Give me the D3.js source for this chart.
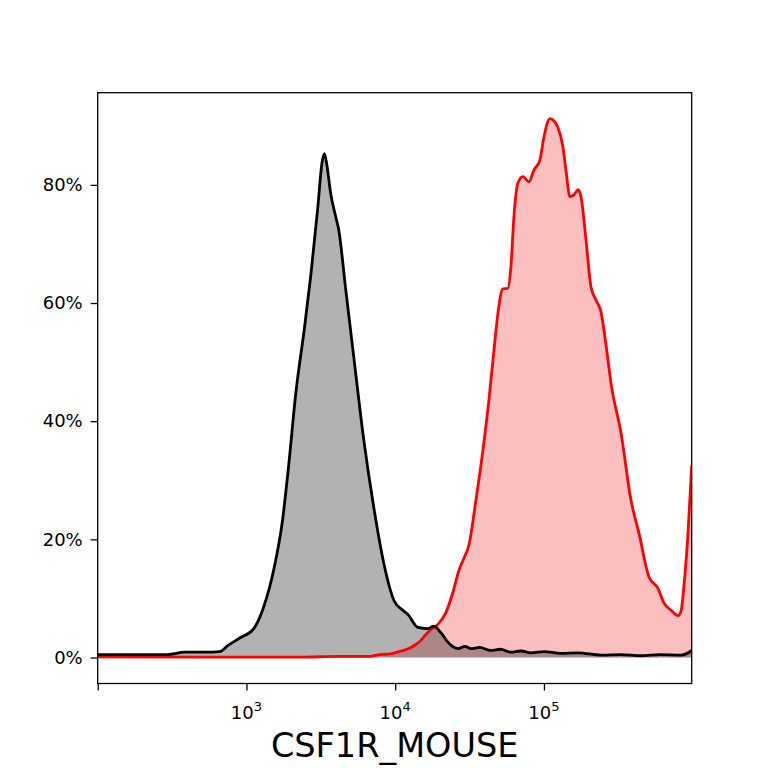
<!DOCTYPE html>
<html>
<head>
<meta charset="utf-8">
<script src="https://cdn.jsdelivr.net/npm/d3@7"></script>
<style>
  body { margin: 0; background: #fff; }
  svg { display: block; font-family: "DejaVu Sans", sans-serif; }
</style>
</head>
<body>
<div id="chart"></div>
<script>
// control (black) histogram: intensity values and % of max
var blackX = [100, 295, 385, 525, 661, 748, 902, 1120, 1307, 1527, 1741, 1926, 2146, 2450, 2708, 3019, 3211, 3336, 3467, 3687, 3984, 4172, 4654, 5270, 6152, 7181, 8390, 9795, 11250, 12160, 14190, 16590, 18200, 20280, 22960, 26390, 29500, 32250, 37000, 43980, 51000, 59920, 70000, 81750, 100000, 130000, 170000, 241600, 330000, 449100, 600000, 834300, 916000, 985000];
var blackY = [0.5, 0.5, 0.9, 0.9, 1.0, 2.0, 3.3, 4.9, 8.6, 14.9, 22.9, 32.7, 44.7, 55.6, 64.7, 76.2, 83.5, 85.3, 83.5, 78.5, 74.6, 72.4, 62.2, 50.8, 36.8, 25.4, 15.9, 9.7, 8.0, 7.3, 5.1, 4.9, 5.3, 4.2, 2.4, 1.5, 1.9, 1.5, 1.7, 1.2, 1.4, 0.9, 1.1, 0.8, 1.0, 0.7, 0.8, 0.4, 0.5, 0.3, 0.5, 0.4, 0.7, 1.2];

// stained (red) histogram
var redX = [100, 485, 2285, 4245, 6745, 7880, 9350, 10100, 11430, 12740, 13770, 14870, 16070, 17370, 19360, 21920, 24430, 26800, 28970, 31300, 34890, 38900, 42690, 46130, 49070, 52970, 57260, 59970, 62830, 66860, 72270, 79290, 85690, 94000, 100000, 109700, 116800, 124200, 134200, 140600, 149600, 159300, 169400, 177500, 191800, 207200, 223900, 242000, 261500, 282500, 329800, 385100, 435800, 508900, 584900, 641900, 714900, 796300, 834300, 874200, 930300, 985000];
var redY = [0.1, 0.05, 0.05, 0.2, 0.2, 0.5, 0.6, 0.85, 1.2, 1.7, 2.2, 2.9, 3.9, 4.7, 5.6, 7.6, 11, 14.7, 16.8, 19, 26.6, 35.1, 43.6, 52, 58.3, 62.4, 62.5, 66.1, 74.6, 80.3, 81.4, 80.5, 82.5, 84.2, 88.1, 91.2, 90.8, 89.7, 86.4, 82.5, 78, 78.3, 79.2, 78, 70.7, 62.7, 60.5, 58.5, 52.9, 46.4, 38, 26.6, 21, 13.6, 11.7, 9.2, 8, 7.1, 7.8, 12.2, 21, 32.5];

var xTicks = [100, 1000, 10000, 100000];
var xTickExp = ["", "3", "4", "5"];
var yTicks = [0, 20, 40, 60, 80];
var xTitle = "CSF1R_MOUSE";

var W = 768, H = 768;
var margin = {left: 97.7, right: 768 - 691.7, top: 92.7, bottom: 768 - 683.5};
var pw = W - margin.left - margin.right;
var ph = H - margin.top - margin.bottom;

var svg = d3.select("#chart").append("svg").attr("width", W).attr("height", H);
svg.append("rect").attr("width", W).attr("height", H).attr("fill", "#fff");

var x = d3.scaleLog().domain([100, 985000]).range([0, pw]);
var y = d3.scaleLinear().domain([-4.4, 95.6]).range([ph, 0]);

var g = svg.append("g").attr("transform", "translate(" + margin.left + "," + margin.top + ")");

g.append("clipPath").attr("id", "clip")
  .append("rect").attr("width", pw).attr("height", ph);

var black = blackX.map(function(v, i) { return {v: v, p: blackY[i]}; });
var red = redX.map(function(v, i) { return {v: v, p: redY[i]}; });

var area = d3.area()
  .x(function(d) { return x(d.v); })
  .y0(y(0))
  .y1(function(d) { return y(d.p); })
  .curve(d3.curveMonotoneX);
var line = d3.line()
  .x(function(d) { return x(d.v); })
  .y(function(d) { return y(d.p); })
  .curve(d3.curveMonotoneX);

var plot = g.append("g").attr("clip-path", "url(#clip)");
plot.append("path").datum(red).attr("d", area).attr("fill", "rgba(240,0,0,0.25)");
plot.append("path").datum(black).attr("d", area).attr("fill", "rgba(0,0,0,0.3)");
plot.append("path").datum(red).attr("d", line).attr("fill", "none")
  .attr("stroke", "#ff0000").attr("stroke-width", 2.8).attr("stroke-linejoin", "round");
plot.append("path").datum(black).attr("d", line).attr("fill", "none")
  .attr("stroke", "#000").attr("stroke-width", 2.8).attr("stroke-linejoin", "round");

// y axis
var yAxis = g.append("g")
  .call(d3.axisLeft(y).tickValues(yTicks).tickSize(7).tickPadding(8)
    .tickFormat(function(d) { return d + "%"; }));
yAxis.select(".domain").remove();
yAxis.selectAll("line").attr("stroke", "#000").attr("stroke-width", 1.3);
yAxis.selectAll("text").attr("font-size", 18).attr("fill", "#000")
  .attr("font-family", "DejaVu Sans");

// x axis
var xAxis = g.append("g").attr("transform", "translate(0," + ph + ")")
  .call(d3.axisBottom(x).tickValues(xTicks).tickSize(7).tickFormat(""));
xAxis.select(".domain").remove();
xAxis.selectAll("line").attr("stroke", "#000").attr("stroke-width", 1.3);

var xl = g.append("g");
xTicks.forEach(function(t, i) {
  if (!xTickExp[i]) return;
  var tx = xl.append("text")
    .attr("x", x(t)).attr("y", ph + 35.5)
    .attr("text-anchor", "middle").attr("font-size", 18).attr("fill", "#000");
  tx.append("tspan").text("10");
  tx.append("tspan").attr("dy", -8).attr("font-size", 13).text(xTickExp[i]);
});

// frame
g.append("rect").attr("width", pw).attr("height", ph)
  .attr("fill", "none").attr("stroke", "#000").attr("stroke-width", 1.3);

svg.append("text")
  .attr("x", margin.left + pw / 2).attr("y", 757)
  .attr("text-anchor", "middle").attr("font-size", 33.5).attr("fill", "#000")
  .text(xTitle);
</script>
</body>
</html>
